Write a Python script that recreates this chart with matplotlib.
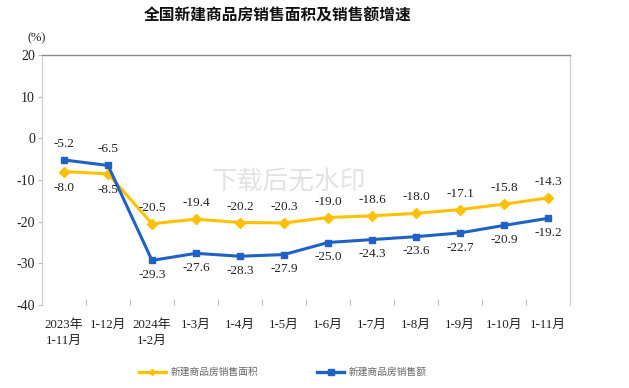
import matplotlib
matplotlib.use("Agg")
import matplotlib.pyplot as plt
import numpy as np
from matplotlib.lines import Line2D

categories = ["2023年\n1-11月", "1-12月", "2024年\n1-2月", "1-3月", "1-4月", "1-5月",
              "1-6月", "1-7月", "1-8月", "1-9月", "1-10月", "1-11月"]
area_growth = [-8.0, -8.5, -20.5, -19.4, -20.2, -20.3, -19.0, -18.6, -18.0, -17.1, -15.8, -14.3]
sales_growth = [-5.2, -6.5, -29.3, -27.6, -28.3, -27.9, -25.0, -24.3, -23.6, -22.7, -20.9, -19.2]
series_names = ["新建商品房销售面积", "新建商品房销售额"]
yticks = [20, 10, 0, -10, -20, -30, -40]
title = "全国新建商品房销售面积及销售额增速"

SERIF = ["Liberation Serif", "Noto Sans CJK SC"]
CJK = ["Noto Sans CJK SC", "DejaVu Sans"]
YEL = "#FFC000"
BLU = "#1F62C4"

fig = plt.figure(figsize=(6.29, 3.88), dpi=100)
ax = fig.add_axes([42/629, 1-305/388, 528/629, 250/388])

x = np.arange(len(categories))
ax.plot(x, area_growth, color=YEL, lw=2.2, marker="D", ms=5, zorder=3)
ax.plot(x, sales_growth, color=BLU, lw=2.2, marker="s", ms=4.8, zorder=3)

ax.set_xlim(-0.5, len(categories) - 0.5)
ax.set_ylim(-40, 20)
ax.set_yticks(yticks)
ax.set_yticklabels([f"{v:d}" for v in yticks], family=SERIF, fontsize=10, color="#222")
ax.set_xticks(x)
ax.set_xticklabels(categories, family=SERIF, fontsize=9.3, color="#222", linespacing=1.45)
ax.tick_params(axis="x", length=0, pad=10)
ax.set_xticks(np.arange(0.5, len(categories) - 0.5, 1), minor=True)
ax.tick_params(axis="x", which="minor", direction="in", length=4, color="#bbbbbb", width=0.8)
ax.tick_params(axis="y", length=3, color="#bbbbbb", width=0.8, pad=2)

for s in ["left", "right"]:
    ax.spines[s].set_color("#cfcfcf")
    ax.spines[s].set_linewidth(0.9)
ax.spines["top"].set_color("#8a8a8a")
ax.spines["top"].set_linewidth(1.0)
ax.spines["bottom"].set_visible(False)

# data labels
for i, v in enumerate(area_growth):
    off = -11.5 if i < 2 else 11.5
    ax.annotate(f"{v:.1f}", (i, v), xytext=(0, off), textcoords="offset points",
                ha="center", va="center", family=SERIF, fontsize=9.5, color="#222")
for i, v in enumerate(sales_growth):
    off = 11.5 if i < 2 else -10.5
    ax.annotate(f"{v:.1f}", (i, v), xytext=(0, off), textcoords="offset points",
                ha="center", va="center", family=SERIF, fontsize=9.5, color="#222")

# watermark
ax.text(5.1, -10.6, "下载后无水印", family=CJK, fontsize=18.5, color="#e2e2e2",
        ha="center", va="center", zorder=1)

fig.text(278/629, 1-16/388, title, family=CJK, fontsize=11.3, fontweight="bold",
         ha="center", va="center", color="#111")
fig.text(37/629, 1-38/388, "(%)", family=SERIF, fontsize=9, ha="center", va="center", color="#222")

handles = [Line2D([0], [0], color=YEL, lw=2.4, marker="D", ms=3),
           Line2D([0], [0], color=BLU, lw=2.4, marker="s", ms=4)]
fig.legend(handles, series_names, loc="center", bbox_to_anchor=(283/629, 1-372/388),
           ncol=2, frameon=False, prop={"family": CJK, "size": 7},
           labelcolor="#666", columnspacing=6.0, handlelength=2.8, handletextpad=0.5)

fig.savefig("out.png", dpi=100)
